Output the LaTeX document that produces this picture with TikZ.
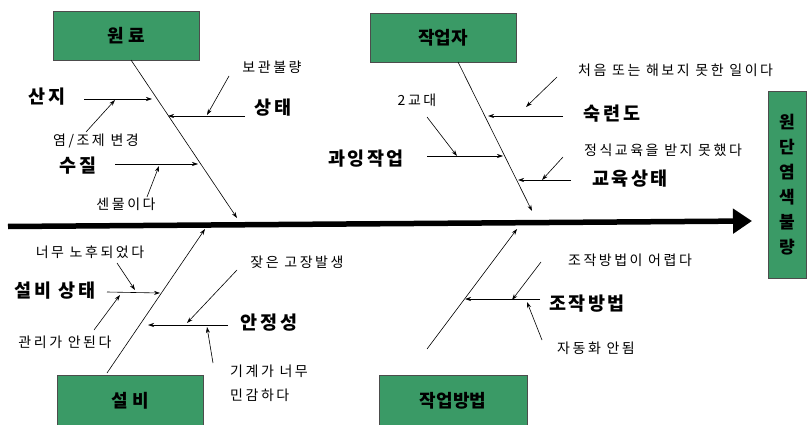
\documentclass[tikz,border=0pt]{standalone}
\usepackage{fontspec}
\newfontfamily\kr{Noto Sans CJK KR}
\newfontfamily\krs[LetterSpace=18]{Noto Sans CJK KR}
\newfontfamily\krb[LetterSpace=14]{Noto Sans CJK KR}
\usetikzlibrary{arrows.meta}
\definecolor{boxgreen}{RGB}{58,154,102}
\begin{document}
\begin{tikzpicture}[x=1pt,y=-1pt,
  catbox/.style={draw=black!70,fill=boxgreen,line width=0.8pt,inner sep=0pt,font=\kr\bfseries\fontsize{18}{20}\selectfont},
  biglab/.style={font=\krb\bfseries\fontsize{18.5}{20}\selectfont,inner sep=0pt},
  smalllab/.style={font=\krs\fontsize{14}{16}\selectfont,inner sep=0pt},
  rib/.style={line width=0.6pt,-{Stealth[length=6pt,width=4pt]}},
  sub/.style={line width=0.6pt,-{Stealth[length=6pt,width=4pt]}},
  spine/.style={line width=5.5pt,-{Triangle[length=19pt,width=24pt]}}]
\useasboundingbox (0,0) rectangle (808,425);

% category boxes
\node[catbox,minimum width=146pt,minimum height=49pt] (wonryo) at (126,35.5) {원 료};
\node[catbox,minimum width=146pt,minimum height=49pt] (worker) at (443,37.5) {작업자};
\node[catbox,minimum width=146pt,minimum height=52pt] (equip) at (130,401) {설 비};
\node[catbox,minimum width=148pt,minimum height=52pt] (method) at (453,401) {작업방법};
\node[catbox,minimum width=38pt,minimum height=187pt,align=center,font=\kr\bfseries\fontsize{17}{25}\selectfont] (effect) at (787,184.5) {원\\단\\염\\색\\불\\량};

% spine
\coordinate (spS) at (8,226.5);
\coordinate (spE) at (752,221);
\draw[spine] (spS) -- (spE);

% ribs
\coordinate (r1a) at (131,60);   \coordinate (r1b) at (237,218);
\coordinate (r2a) at (458,62);   \coordinate (r2b) at (532,211);
\coordinate (r3a) at (107,373);  \coordinate (r3b) at (205,229);
\coordinate (r4a) at (427,349);  \coordinate (r4b) at (517,229);
\draw[rib] (r1a) -- (r1b);
\draw[rib] (r2a) -- (r2b);
\draw[rib] (r3a) -- (r3b);
\draw[rib] (r4a) -- (r4b);

% ---- 원료 ----
\node[biglab] (sanji) at (47,97) {산지};
\coordinate (sanjiA) at (84,99); \coordinate (sanjiB) at (152,99);
\draw[sub] (sanjiA) -- (sanjiB);
\node[smalllab] (yeom) at (96,141) {염/조제 변경};
\coordinate (yeomA) at (86,132); \coordinate (yeomB) at (115,100);
\draw[sub] (yeomA) -- (yeomB);
\node[biglab] (sujil) at (78,166) {수질};
\coordinate (sujilA) at (115,164); \coordinate (sujilB) at (198,164);
\draw[sub] (sujilA) -- (sujilB);
\node[smalllab] (senmul) at (126,204) {센물이다};
\coordinate (senA) at (147,197); \coordinate (senB) at (159,166);
\draw[sub] (senA) -- (senB);
\node[biglab] (sangtae) at (273,108) {상태};
\coordinate (stA) at (245,116); \coordinate (stB) at (168,116);
\draw[sub] (stA) -- (stB);
\node[smalllab] (bogwan) at (272,67) {보관불량};
\coordinate (bgA) at (229,76); \coordinate (bgB) at (207,115);
\draw[sub] (bgA) -- (bgB);

% ---- 작업자 ----
\node[smalllab] (gyodae) at (417,100) {2교대};
\coordinate (gdA) at (427,117); \coordinate (gdB) at (457,156);
\draw[sub] (gdA) -- (gdB);
\node[biglab] (gwaing) at (366,159) {과잉작업};
\coordinate (gwA) at (427,156); \coordinate (gwB) at (503,156);
\draw[sub] (gwA) -- (gwB);
\node[biglab] (sukryeon) at (612,114) {숙련도};
\coordinate (skA) at (563,116); \coordinate (skB) at (488,116);
\draw[sub] (skA) -- (skB);
\node[smalllab,anchor=west] (cheoeum) at (578,70) {처음 또는 해보지 못한 일이다};
\coordinate (ceA) at (557,77); \coordinate (ceB) at (526,107);
\draw[sub] (ceA) -- (ceB);
\node[smalllab] (jeongsik) at (663,150) {정식교육을 받지 못했다};
\coordinate (jsA) at (563,157); \coordinate (jsB) at (542,180);
\draw[sub] (jsA) -- (jsB);
\node[biglab] (gyoyuk) at (630,179) {교육상태};
\coordinate (gyA) at (571,180); \coordinate (gyB) at (518,180);
\draw[sub] (gyA) -- (gyB);

% ---- 설비 ----
\node[smalllab] (nohu) at (90,252) {너무 노후되었다};
\coordinate (nhA) at (117,263); \coordinate (nhB) at (135,290);
\draw[sub] (nhA) -- (nhB);
\node[biglab] (seolbi) at (55,291) {설비 상태};
\coordinate (sbA) at (107,292); \coordinate (sbB) at (160,293);
\draw[sub] (sbA) -- (sbB);
\node[smalllab] (gwanri) at (65,342) {관리가 안된다};
\coordinate (grA) at (94,330); \coordinate (grB) at (120,295);
\draw[sub] (grA) -- (grB);
\node[smalllab] (jajeun) at (297,262) {잦은 고장발생};
\coordinate (jjA) at (237,270); \coordinate (jjB) at (187,323);
\draw[sub] (jjA) -- (jjB);
\node[biglab] (anjeong) at (269,323) {안정성};
\coordinate (ajA) at (228,325); \coordinate (ajB) at (148,325);
\draw[sub] (ajA) -- (ajB);
\node[smalllab,anchor=north west,align=left,font=\krs\fontsize{14}{24}\selectfont] (gigye) at (230,365) {기계가 너무\\민감하다};
\coordinate (ggA) at (213,363); \coordinate (ggB) at (207,327);
\draw[sub] (ggA) -- (ggB);

% ---- 작업방법 ----
\node[smalllab] (eoryeop) at (630,260) {조작방법이 어렵다};
\coordinate (eyA) at (541,262); \coordinate (eyB) at (512,300);
\draw[sub] (eyA) -- (eyB);
\node[biglab] (jojak) at (587,304) {조작방법};
\coordinate (jkA) at (540,299); \coordinate (jkB) at (465,299);
\draw[sub] (jkA) -- (jkB);
\node[smalllab] (jadong) at (596,348) {자동화 안됨};
\coordinate (jdA) at (542,340); \coordinate (jdB) at (527,302);
\draw[sub] (jdA) -- (jdB);
\end{tikzpicture}
\end{document}
